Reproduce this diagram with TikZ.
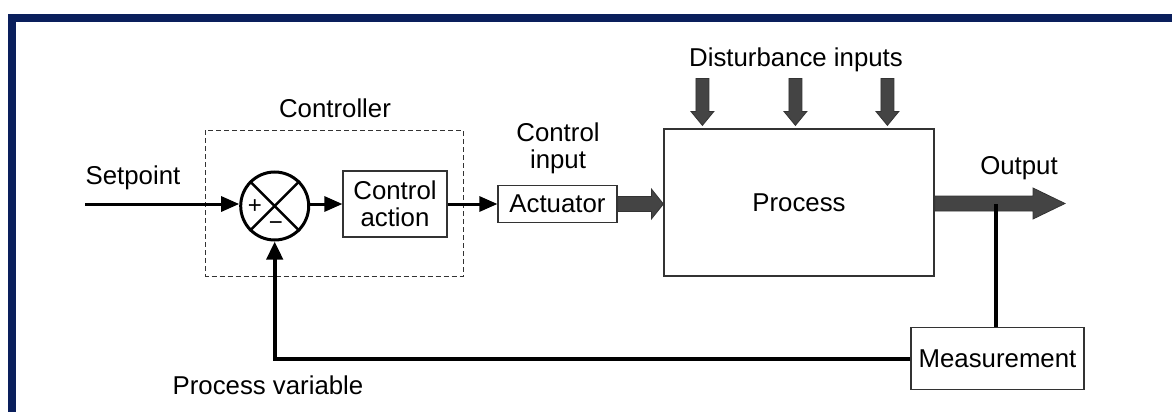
\documentclass[tikz,border=0pt]{standalone}
\usepackage{fontspec}
\setmainfont{Liberation Sans}
\usetikzlibrary{arrows.meta,calc}
\definecolor{bandblue}{HTML}{0A1F5C}
\definecolor{fatgray}{HTML}{444444}
\tikzset{
  lbl/.style={font=\fontsize{25.8}{27}\selectfont, inner sep=0pt, align=center},
  blk/.style={lbl, draw=black!80, line width=1.2pt, fill=white},
  sig/.style={line width=3pt, -{Triangle[length=18pt,width=15pt]}},
  fb/.style={line width=4pt},
  fat/.style={fill=fatgray, draw=black!80, line width=0.8pt},
  dashbox/.style={draw=black!80, line width=1pt, dash pattern=on 5pt off 3pt},
  sgn/.style={font=\fontsize{24}{24}\selectfont, inner sep=0pt},
}
\begin{document}
\begin{tikzpicture}[x=1pt,y=-1pt]
\useasboundingbox (0,0) rectangle (1172,412);
% frame bands
\fill[bandblue] (8,14) rectangle (1172,22.5);
\fill[bandblue] (8,14) rectangle (16,412);

% controller dashed box
\draw[dashbox] (205.5,130) rectangle (463,276);
\node[lbl] (ctrllbl) at (335,108) {Controller};

% setpoint and summing junction
\node[lbl] (setlbl) at (133,178) {Setpoint};
\coordinate (spstart) at (85,204);
\node[circle, draw, line width=3pt, minimum size=68pt, inner sep=0pt] (sum) at (274.7,206) {};
\draw[line width=2.5pt] (sum.45) -- (sum.225) (sum.135) -- (sum.315);
\node[sgn] (plus) at (255,207) {+};
\node[sgn] (minus) at (276,226) {−};
\draw[sig] (spstart) -- (spstart -| sum.west);

% control action
\node[blk, minimum width=104pt, minimum height=66pt] (ca) at (395,204) {Control\\action};
\draw[sig] (sum.east |- ca.west) -- (ca.west);

% actuator
\node[lbl] (cilbl) at (558,148.5) {Control\\input};
\node[blk, minimum width=119pt, minimum height=37pt] (act) at (557.5,204) {Actuator};
\draw[sig] (ca.east) -- (act.west);

% process
\node[blk, minimum width=270pt, minimum height=147pt] (proc) at (799,202.5) {Process};
\filldraw[fat] ($(act.east)+(0,-7.5)$) -- ($(proc.west |- act.east)+(-12,-7.5)$)
  -- ($(proc.west |- act.east)+(-12,-15)$) -- (proc.west |- act.east)
  -- ($(proc.west |- act.east)+(-12,15)$) -- ($(proc.west |- act.east)+(-12,7.5)$)
  -- ($(act.east)+(0,7.5)$) -- cycle;

% disturbance inputs
\node[lbl] (distlbl) at (796,60) {Disturbance inputs};
\foreach \i/\dx in {1/39,2/132,3/224} {
  \coordinate (d\i) at ($(proc.north west)+(\dx,-3)$);
  \filldraw[fat] ($(d\i)+(-6.5,-47)$) -- ($(d\i)+(6.5,-47)$) -- ($(d\i)+(6.5,-14)$)
    -- ($(d\i)+(11.5,-14)$) -- (d\i) -- ($(d\i)+(-11.5,-14)$) -- ($(d\i)+(-6.5,-14)$) -- cycle;
}

% output
\node[lbl] (outlbl) at (1019,168) {Output};
\coordinate (outtip) at (1065,203.5);
\filldraw[fat] ($(proc.east |- outtip)+(0,-7.5)$) -- ($(outtip)+(-32,-7.5)$)
  -- ($(outtip)+(-32,-15.5)$) -- (outtip) -- ($(outtip)+(-32,15.5)$)
  -- ($(outtip)+(-32,7.5)$) -- ($(proc.east |- outtip)+(0,7.5)$) -- cycle;

% measurement and feedback
\node[blk, minimum width=173pt, minimum height=61.5pt] (meas) at (997.5,358.5) {Measurement};
\coordinate (tap) at (996,204);
\draw[fb] (tap) -- (tap |- meas.north);
\draw[fb, -{Triangle[length=18pt,width=16pt]}] (meas.west) -- (meas.west -| sum.south) -- (sum.south);
\node[lbl] (pvlbl) at (268,385) {Process variable};
\end{tikzpicture}
\end{document}
